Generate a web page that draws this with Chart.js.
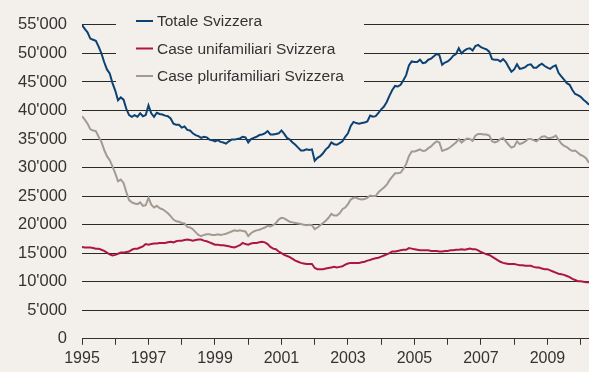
<!DOCTYPE html>
<html>
<head>
<meta charset="utf-8">
<script src="https://cdn.jsdelivr.net/npm/chart.js@4.4.1/dist/chart.umd.min.js"></script>
<style>
  html, body { margin: 0; padding: 0; background: #f3f0ec; }
  #wrap { width: 589px; height: 372px; position: relative; }
</style>
</head>
<body>
<div id="wrap"><canvas id="chart"></canvas></div>
<script>
// Monthly series, January 1995 to April 2010
const startYear = 1995;

const totale = [
  55000, 54300, 53700, 52600, 52400, 52200, 51200, 50000, 48500, 47200,
  46500, 44800, 43500, 41800, 42300, 41900, 40300, 39200, 38900, 39200,
  38900, 39500, 39000, 39200, 40900, 39500, 38900, 39600, 39400, 39300,
  39100, 39000, 38600, 37700, 37500, 37500, 37000, 37200, 36600, 36500,
  36000, 35700, 35500, 35200, 35400, 35300, 34900, 34800, 34600, 34800,
  34500, 34400, 34200, 34600, 34900, 34900, 35000, 35100, 35400, 35300,
  34400, 35000, 35200, 35400, 35700, 35800, 36000, 36400, 35800, 35800,
  35900, 36000, 36500, 35900, 35200, 34900, 34400, 34000, 33500, 33000,
  33000, 33200, 33100, 33200, 31200, 31700, 32000, 32500, 33200, 33600,
  34400, 34100, 34000, 34300, 34600, 35400, 36000, 37300, 38000, 37800,
  37700, 37800, 37900, 38100, 39100, 38900, 39000, 39600, 40200, 40700,
  41500, 42600, 43600, 44300, 44200, 44500, 45300, 46200, 47900, 48600,
  48500, 48500, 48900, 48300, 48400, 48900, 49100, 49500, 49900, 49700,
  48000, 48400, 48600, 49000, 49600, 49900, 50900, 50000, 50500, 50800,
  50900, 50500, 51300, 51500, 51100, 50900, 50700, 50300, 49000, 48900,
  48900, 48600, 49000, 48500, 47600, 46800, 47200, 48100, 47300, 47400,
  47600, 48000, 48100, 47500, 47500, 47900, 48200, 47800, 47500, 47300,
  47700, 47900, 46600, 46000, 45400, 44800, 44500, 43600, 42900, 42700,
  42400, 41900, 41500, 41000
];

const unifamiliari = [
  16100, 16000, 16000, 16000, 15900, 15800, 15800, 15600, 15400, 15100,
  14800, 14600, 14700, 14900, 15100, 15100, 15200, 15300, 15600, 15800,
  15800, 16000, 16200, 16600, 16500, 16600, 16700, 16700, 16800, 16800,
  16800, 16900, 17000, 16900, 17100, 17200, 17200, 17300, 17400, 17300,
  17200, 17300, 17400, 17400, 17200, 17100, 16900, 16700, 16500, 16500,
  16400, 16400, 16300, 16200, 16100, 16000, 16200, 16400, 16800, 16600,
  16500, 16700, 16800, 16800, 16900, 17000, 16900, 16600, 16100, 15800,
  15700, 15300, 15000, 14700, 14500, 14300, 14000, 13700, 13500, 13300,
  13200, 13100, 13100, 13100, 12400, 12200, 12200, 12200, 12300, 12400,
  12500, 12600, 12500, 12600, 12700, 13000, 13200, 13300, 13300, 13300,
  13300, 13400, 13500, 13700, 13800, 14000, 14100, 14200, 14400, 14600,
  14800, 15000, 15300, 15300, 15400, 15500, 15600, 15600, 15900, 15800,
  15700, 15600, 15500, 15500, 15500, 15500, 15400, 15400, 15400, 15300,
  15300, 15400, 15400, 15500, 15500, 15600, 15600, 15700, 15600, 15700,
  15800, 15700, 15700, 15500, 15200, 15000, 14800, 14700, 14400, 14100,
  13800, 13500, 13300, 13200, 13100, 13100, 13100, 13000, 12900, 12900,
  12800, 12800, 12800, 12600, 12500, 12500, 12300, 12200, 12200, 12000,
  11800, 11600, 11400, 11300, 11200, 11000, 10800, 10500, 10300, 10100,
  10100, 10000, 9900, 9900
];

const plurifamiliari = [
  39000, 38400, 37700, 36700, 36500, 36400, 35400, 34500, 33100, 32000,
  31300, 30200, 29000, 27600, 27900, 27300, 25700, 24300, 23900, 23700,
  23600, 23900, 23300, 23400, 24700, 23500, 23000, 23300, 22900, 22700,
  22400, 22000, 21500, 20900, 20600, 20500, 20300, 20200, 19600, 19500,
  19200, 18700, 18200, 18000, 18200, 18300, 18300, 18200, 18200, 18300,
  18200, 18300, 18400, 18600, 18800, 19000, 18900, 19000, 18900, 18800,
  18000, 18500, 18800, 19000, 19100, 19300, 19500, 19800, 19700, 19900,
  20300, 20900, 21200, 21100, 20800, 20500, 20400, 20300, 20200, 20100,
  20000, 19900, 20000, 19900, 19200, 19500, 19900, 20300, 20700, 21200,
  21900, 21600, 21600, 22000, 22700, 23000, 23600, 24400, 24700, 24700,
  24500, 24400, 24500, 24700, 25100, 25000, 25000, 25700, 26100, 26500,
  27000, 27800, 28400, 29000, 29000, 29100, 29800, 30600, 32000, 32800,
  32800, 33000, 33200, 32900, 33000, 33400, 33700, 34200, 34600, 34400,
  32900, 33100, 33300, 33600, 34000, 34400, 35000, 34400, 34800, 35100,
  35000, 34700, 35600, 35900, 35900, 35800, 35800, 35600, 34600, 34400,
  34600, 35000, 35200, 34600, 34000, 33500, 33700, 34600, 34100, 34300,
  34600, 35000, 35000, 34800, 34600, 35000, 35400, 35500, 35200, 35200,
  35300, 35600, 34900, 34200, 33800, 33600, 33200, 32900, 33000, 32600,
  32200, 32000, 31600, 30800
];

const yearLabels = [1995, 1997, 1999, 2001, 2003, 2005, 2007, 2009];

const series = [
  { label: 'Totale Svizzera', values: totale, color: '#0c4273' },
  { label: 'Case unifamiliari Svizzera', values: unifamiliari, color: '#ad1642' },
  { label: 'Case plurifamiliari Svizzera', values: plurifamiliari, color: '#a39a91' }
];

const bg = '#f3f0ec';
const fontFamily = '"Liberation Sans", Arial, Helvetica, sans-serif';

const toPoints = (arr) => arr.map((v, i) => ({ x: startYear + i / 12, y: v }));
const lastX = startYear + (totale.length - 1) / 12;

// legend sits inside the plot and blanks out the top gridlines behind it
const insideLegend = {
  id: 'insideLegend',
  beforeDatasetsDraw(chart) {
    const ctx = chart.ctx;
    ctx.save();
    ctx.fillStyle = bg;
    ctx.fillRect(116, 12, 248, 80);
    series.forEach((s, i) => {
      const y = 21 + i * 27.5;
      ctx.strokeStyle = s.color;
      ctx.lineWidth = 2;
      ctx.beginPath();
      ctx.moveTo(136, y);
      ctx.lineTo(153, y);
      ctx.stroke();
      ctx.fillStyle = '#333';
      ctx.font = '15.5px ' + fontFamily;
      ctx.textBaseline = 'middle';
      ctx.fillText(s.label, 157, y + 1);
    });
    ctx.restore();
  }
};

new Chart(document.getElementById('chart'), {
  type: 'line',
  data: {
    datasets: series.slice().reverse().map(s => ({
      label: s.label,
      data: toPoints(s.values),
      borderColor: s.color,
      backgroundColor: s.color,
      borderWidth: 2,
      pointRadius: 0,
      tension: 0,
      fill: false
    }))
  },
  options: {
    responsive: true,
    maintainAspectRatio: false,
    animation: false,
    layout: { padding: { top: 15, right: 0, bottom: 0, left: 0 } },
    plugins: {
      legend: { display: false },
      tooltip: { enabled: false }
    },
    scales: {
      x: {
        type: 'linear',
        min: startYear,
        max: lastX,
        grid: {
          drawOnChartArea: false,
          drawTicks: true,
          tickLength: 6,
          color: '#333'
        },
        border: { display: true, color: '#333' },
        ticks: {
          stepSize: 1,
          autoSkip: false,
          includeBounds: false,
          maxRotation: 0,
          padding: 4,
          color: '#333',
          font: { family: fontFamily, size: 16 },
          callback: (v) => yearLabels.includes(v) ? String(v) : ''
        }
      },
      y: {
        min: 0,
        max: 55000,
        afterFit: (scale) => { scale.width = 82; },
        grid: {
          color: '#2a2a2a',
          lineWidth: 1,
          drawTicks: false
        },
        border: { display: false },
        ticks: {
          stepSize: 5000,
          padding: 15,
          color: '#333',
          font: { family: fontFamily, size: 16.5 },
          callback: (v) => v === 0 ? '0' : (v / 1000) + "'000"
        }
      }
    }
  },
  plugins: [insideLegend]
});
</script>
</body>
</html>
